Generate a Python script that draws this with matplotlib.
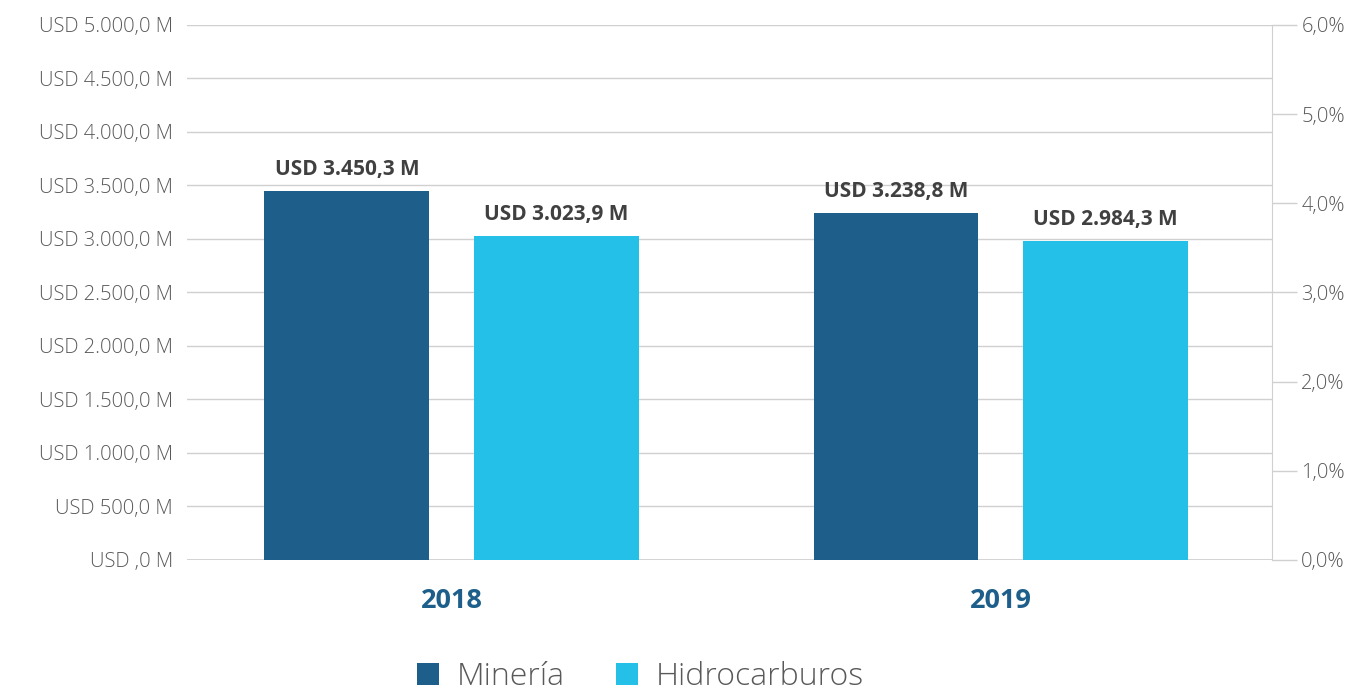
import matplotlib.pyplot as plt
import numpy as np
from matplotlib.ticker import FuncFormatter, MultipleLocator

# data
years = ["2018", "2019"]
mineria = [3450.3, 3238.8]
hidrocarburos = [3023.9, 2984.3]
series_names = ["Minería", "Hidrocarburos"]

DARK = "#1D5F8A"
LIGHT = "#25C0E8"
GRID = "#D0D0D0"
TXT = "#595959"

plt.rcParams['font.family'] = ['Open Sans', 'DejaVu Sans']


def usd(v, pos=None):
    s = f"{v:,.1f}".replace(",", "X").replace(".", ",").replace("X", ".")
    if s.startswith("0,"):
        s = s[1:]
    return f"USD {s} M"


fig = plt.figure(figsize=(13.65, 6.93), dpi=100)
ax = fig.add_axes([0.137, 0.192, 0.795, 0.772])

x = np.arange(len(years))
w = 0.30
off = 0.191
b1 = ax.bar(x - off, mineria, w, color=DARK, label=series_names[0], zorder=3)
b2 = ax.bar(x + off, hidrocarburos, w, color=LIGHT, label=series_names[1], zorder=3)

for bars, vals in [(b1, mineria), (b2, hidrocarburos)]:
    for b, v in zip(bars, vals):
        ax.annotate(usd(v), (b.get_x() + b.get_width() / 2, v),
                    xytext=(0, 8), textcoords="offset points",
                    ha="center", va="bottom", fontsize=15,
                    fontweight="bold", color="#404040")

ax.set_ylim(0, 5000)
ax.set_xlim(-0.482, 1.494)
ax.yaxis.set_major_locator(MultipleLocator(500))
ax.yaxis.set_major_formatter(FuncFormatter(usd))
ax.grid(axis="y", color=GRID, lw=1, zorder=0)
ax.axhline(0, color="#D0D0D0", lw=2, zorder=2)
ax.tick_params(axis="y", length=0, labelsize=14.5, labelcolor=TXT, pad=10)
for t in ax.get_yticklabels():
    t.set_fontweight("light")
ax.set_xticks(x)
ax.set_xticklabels(years, fontsize=19.5, fontweight="bold", color=DARK)
ax.tick_params(axis="x", length=0, pad=20)
for s in ax.spines.values():
    s.set_visible(False)

# secondary percent axis
ax2 = ax.twinx()
ax2.set_ylim(0, 6)
ax2.yaxis.set_major_locator(MultipleLocator(1))
ax2.yaxis.set_major_formatter(FuncFormatter(lambda v, p: f"{v:.1f}%".replace(".", ",")))
ax2.tick_params(axis="y", length=18, width=1, color=GRID, labelsize=14.5,
                labelcolor=TXT, pad=3)
for t in ax2.get_yticklabels():
    t.set_fontweight("light")
for k, s in ax2.spines.items():
    s.set_visible(k == "right")
ax2.spines["right"].set_color(GRID)

leg = fig.legend(handles=[b1, b2], labels=series_names, loc="lower center",
                 bbox_to_anchor=(0.469, -0.042), ncol=2, frameon=False,
                 fontsize=23, handlelength=0.7, handleheight=0.7,
                 columnspacing=1.6, handletextpad=0.55, labelcolor=TXT)
for t in leg.get_texts():
    t.set_fontweight("light")

fig.savefig("out.png", dpi=100)
